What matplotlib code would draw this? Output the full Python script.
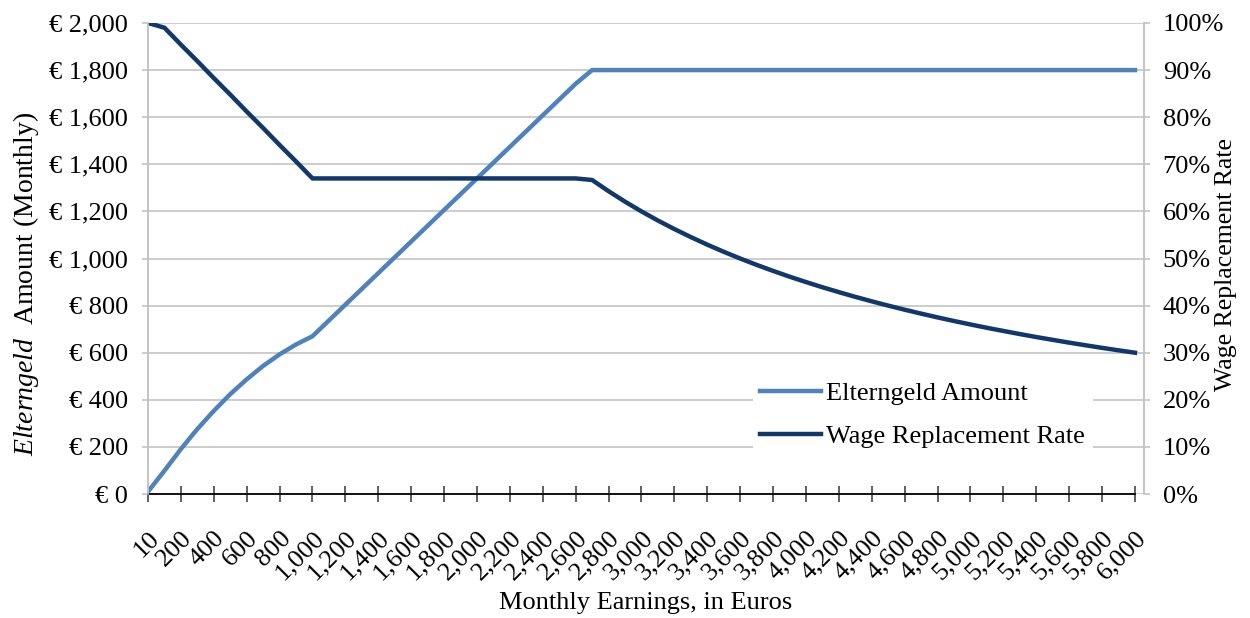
import matplotlib
matplotlib.use("Agg")
import matplotlib.pyplot as plt
from matplotlib.ticker import FuncFormatter, MultipleLocator

plt.rcParams['font.family'] = ['Liberation Serif', 'DejaVu Serif']
plt.rcParams['mathtext.fontset'] = 'custom'
plt.rcParams['mathtext.rm'] = 'Liberation Serif'
plt.rcParams['mathtext.it'] = 'Liberation Serif:italic'

# monthly earnings (categories), 10 then every 100 up to 6000
earnings = [10] + list(range(100, 6001, 100))

# Elterngeld amount per month (euros)
amount = [10, 99, 191, 276, 353, 424, 487, 544, 593, 635, 670,
          737, 804, 871, 938, 1005, 1072, 1139, 1206, 1273, 1340,
          1407, 1474, 1541, 1608, 1675, 1742] + [1800] * 34

# wage replacement rate (%)
rate = [100, 99, 95.4, 91.9, 88.3, 84.8, 81.2, 77.7, 74.1, 70.6, 67,
        67, 67, 67, 67, 67, 67, 67, 67, 67, 67,
        67, 67, 67, 67, 67, 67,
        66.67, 64.29, 62.07, 60.0, 58.06, 56.25, 54.55, 52.94, 51.43, 50.0,
        48.65, 47.37, 46.15, 45.0, 43.9, 42.86, 41.86, 40.91, 40.0, 39.13,
        38.3, 37.5, 36.73, 36.0, 35.29, 34.62, 33.96, 33.33, 32.73, 32.14,
        31.58, 31.03, 30.51, 30.0]

light = '#4F81BD'
dark = '#10386B'
grid = '#C4C4C4'

fig = plt.figure(figsize=(12.5, 6.18), dpi=100)
ax = fig.add_axes([0.1184, 0.2006, 0.7968, 0.7622])
ax2 = ax.twinx()

idx = list(range(len(earnings)))
l1, = ax.plot(idx, amount, color=light, lw=3.2, solid_joinstyle='round')
l2, = ax2.plot(idx, rate, color=dark, lw=3.2, solid_joinstyle='round')

ax.set_xlim(0, 60.55)
ax.set_ylim(0, 2000)
ax2.set_ylim(0, 100)

ax.yaxis.set_major_locator(MultipleLocator(200))
ax.yaxis.set_major_formatter(FuncFormatter(lambda v, p: '€ {:,.0f}'.format(v)))
ax2.yaxis.set_major_locator(MultipleLocator(10))
ax2.yaxis.set_major_formatter(FuncFormatter(lambda v, p: '{:.0f}%'.format(v)))

ax.set_xticks(idx[::2])
ax.set_xticklabels(['{:,}'.format(e) for e in earnings[::2]], rotation=45,
                   ha='right', va='top', rotation_mode='anchor', fontsize=19)

ax.grid(axis='y', color=grid, lw=1.2)
ax.set_axisbelow(True)

for a in (ax, ax2):
    a.spines['top'].set_visible(False)
    a.spines['left'].set_color(grid)
    a.spines['right'].set_color(grid)
    a.spines['left'].set_linewidth(1.2)
    a.spines['right'].set_linewidth(1.2)
    a.spines['bottom'].set_visible(False)
ax.spines['bottom'].set_visible(True)
ax.spines['bottom'].set_color('black')
ax.spines['bottom'].set_linewidth(1.3)
ax.spines['bottom'].set_bounds(0, 60)

ax.tick_params(axis='x', direction='inout', length=11.5, width=1.2, color='#444444', pad=18)
ax.tick_params(axis='y', direction='out', length=4.5, width=1.2, color=grid,
               labelsize=19, pad=10)
ax2.tick_params(axis='y', direction='out', length=4.5, width=1.2, color=grid,
                labelsize=19, pad=9)

ax.set_xlabel('Monthly Earnings, in Euros', fontsize=19)
ax.xaxis.set_label_coords(0.5, -0.207)
ax.set_ylabel(r'$\mathit{Elterngeld}$  Amount (Monthly)', fontsize=20)
ax.yaxis.set_label_coords(-0.107, 0.446)
ax2.set_ylabel('Wage Replacement Rate', fontsize=18.5)
ax2.yaxis.set_label_coords(1.071, 0.488)

leg = ax2.legend([l1, l2], ['Elterngeld Amount', 'Wage Replacement Rate'],
                 loc='upper left', bbox_to_anchor=(0.607, 0.255), fontsize=19,
                 frameon=True, facecolor='white', edgecolor='none', framealpha=1,
                 fancybox=False, handlelength=2.3, handletextpad=0.2,
                 labelspacing=0.72, borderpad=0.3, borderaxespad=0)

fig.savefig('out.png', dpi=100)
